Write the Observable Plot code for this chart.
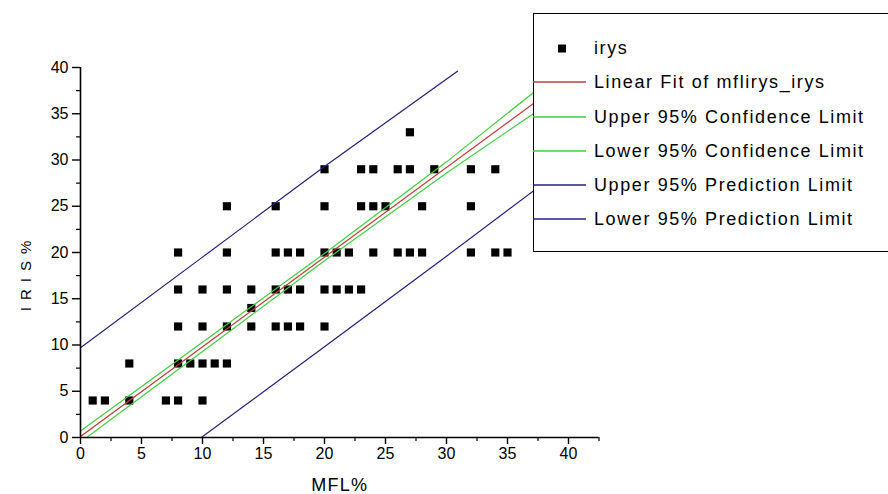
<!DOCTYPE html>
<html><head><meta charset="utf-8">
<script src="https://cdn.jsdelivr.net/npm/d3@7"></script>
<script src="https://cdn.jsdelivr.net/npm/@observablehq/plot@0.6"></script>
<style>
body{margin:0;background:#fff;}
#wrap{position:relative;width:888px;height:494px;overflow:hidden;background:#fff;}
#legend{position:absolute;left:533px;top:13px;width:355px;height:239px;box-sizing:border-box;border:1.5px solid #000;border-right:none;background:#fff;}
</style></head><body><div id="wrap"></div>
<script>
// scatter data (MFL%, IRIS%)
const mfl  = [1,2,4,7,8,10,  4,8,9,10,11,12,  8,10,12,14,16,17,18,20,  14,
              8,10,12,14,16,17,18,20,21,22,23,
              8,12,16,17,18,20,21,22,24,26,27,28,32,34,35,
              12,16,20,23,24,25,28,32,
              20,23,24,26,27,29,32,34,
              27];
const iris = [4,4,4,4,4,4,  8,8,8,8,8,8,  12,12,12,12,12,12,12,12,  14,
              16,16,16,16,16,16,16,16,16,16,16,
              20,20,20,20,20,20,20,20,20,20,20,20,20,20,20,
              25,25,25,25,25,25,25,25,
              29,29,29,29,29,29,29,29,
              33];
// fitted line and limits
const fitX = [0, 40],            fitY = [0.1, 38.9];
const uclX = [0, 10, 20, 30, 40], uclY = [0.7, 10.3, 19.9, 29.8, 40.3];
const lclX = [0.5, 10, 20, 30, 40], lclY = [0, 9.3, 19.1, 28.6, 37.6];
const uplX = [0, 10, 20, 30.9],  uplY = [9.7, 19.5, 29.3, 39.6];
const lplX = [9.9, 20, 30, 40],  lplY = [0, 9.8, 19.6, 29.5];
const xTicks = [0,5,10,15,20,25,30,35,40];
const xMinor = [2.5,7.5,12.5,17.5,22.5,27.5,32.5,37.5,42.5];
const yTicks = [0,5,10,15,20,25,30,35,40];
const yMinor = [2.5,7.5,12.5,17.5,22.5,27.5,32.5,37.5];
const legendLabels = ["irys","Linear Fit of mflirys_irys","Upper 95% Confidence Limit","Lower 95% Confidence Limit","Upper 95% Prediction Limit","Lower 95% Prediction Limit"];
const xTitle = "MFL%", yTitle = "IRIS%";

const RED = "#c03c3c", GREEN = "#3fcf3f", NAVY = "#22227a";
const pts = mfl.map((x,i)=>({x, y: iris[i]}));
const mk = (X,Y)=>X.map((x,i)=>({x, y: Y[i]}));

const chart = Plot.plot({
  width: 888, height: 494,
  marginLeft: 80, marginRight: 289.5, marginTop: 67, marginBottom: 57,
  x: {domain: [0, 42.5], axis: null},
  y: {domain: [0, 40], axis: null},
  style: {fontFamily: "'Liberation Sans', Arial, sans-serif", background: "white", color: "black"},
  marks: [
    Plot.dot(pts, {x: "x", y: "y", symbol: "square", r: 4.6, fill: "black", stroke: "none"}),
    Plot.line(mk(uplX, uplY), {x: "x", y: "y", stroke: NAVY, strokeWidth: 1.2, clip: true}),
    Plot.line(mk(lplX, lplY), {x: "x", y: "y", stroke: NAVY, strokeWidth: 1.2, clip: true}),
    Plot.line(mk(uclX, uclY), {x: "x", y: "y", stroke: GREEN, strokeWidth: 1.2, clip: true}),
    Plot.line(mk(lclX, lclY), {x: "x", y: "y", stroke: GREEN, strokeWidth: 1.2, clip: true}),
    Plot.line(mk(fitX, fitY), {x: "x", y: "y", stroke: RED, strokeWidth: 1.2, clip: true}),
    Plot.ruleY([0], {stroke: "black", strokeWidth: 1.6}),
    Plot.ruleX([0], {stroke: "black", strokeWidth: 1.6}),
    Plot.axisX({ticks: xTicks, tickSize: 7, tickPadding: 3, label: null, tickFormat: d => String(d), strokeWidth: 1.4}),
    Plot.axisX({ticks: xMinor, tickSize: 4, label: null, tickFormat: () => "", strokeWidth: 1.2}),
    Plot.axisY({ticks: yTicks, tickSize: 8, tickPadding: 4, label: null, tickFormat: d => String(d), strokeWidth: 1.4}),
    Plot.axisY({ticks: yMinor, tickSize: 4, label: null, tickFormat: () => "", strokeWidth: 1.2}),
    Plot.text([xTitle], {text: d => d, frameAnchor: "bottom", lineAnchor: "bottom", dy: 53, fontSize: 18}),
    Plot.text([yTitle], {text: d => d, frameAnchor: "left", textAnchor: "middle", rotate: -90, dx: -54, dy: 20, fontSize: 15})
  ]
});
const sel = d3.select(chart);
sel.selectAll("text").filter(function(){ return /^\d+$/.test(this.textContent); })
  .attr("font-size", 16).style("font-size", "16px");
sel.selectAll("text").filter(function(){ return this.textContent === xTitle; }).style("letter-spacing", "1.3px");
sel.selectAll("text").filter(function(){ return this.textContent === yTitle; }).style("letter-spacing", "7px");
document.getElementById("wrap").appendChild(chart);

// legend
const leg = document.createElement("div");
leg.id = "legend";
document.getElementById("wrap").appendChild(leg);
const ls = d3.select(leg).append("svg").attr("width", 355).attr("height", 239)
  .style("position","absolute").style("left","-1.5px").style("top","-1.5px");
const rowY = [48, 82, 117, 151, 185, 219].map(v => v - 13);
const legColors = [null, RED, GREEN, GREEN, NAVY, NAVY];
legendLabels.forEach((lab, i) => {
  const y = rowY[i];
  if (i === 0) {
    ls.append("rect").attr("x", 25).attr("y", y - 3.5).attr("width", 8).attr("height", 8).attr("fill", "black");
  } else {
    ls.append("line").attr("x1", 0).attr("x2", 53).attr("y1", y).attr("y2", y)
      .attr("stroke", legColors[i]).attr("stroke-width", 1.3);
  }
  ls.append("text").attr("x", 61).attr("y", y).attr("dy", "0.35em")
    .attr("font-family", "'Liberation Sans', Arial, sans-serif").attr("font-size", 18)
    .style("letter-spacing", "1.6px").text(lab);
});
</script>
</body></html>
